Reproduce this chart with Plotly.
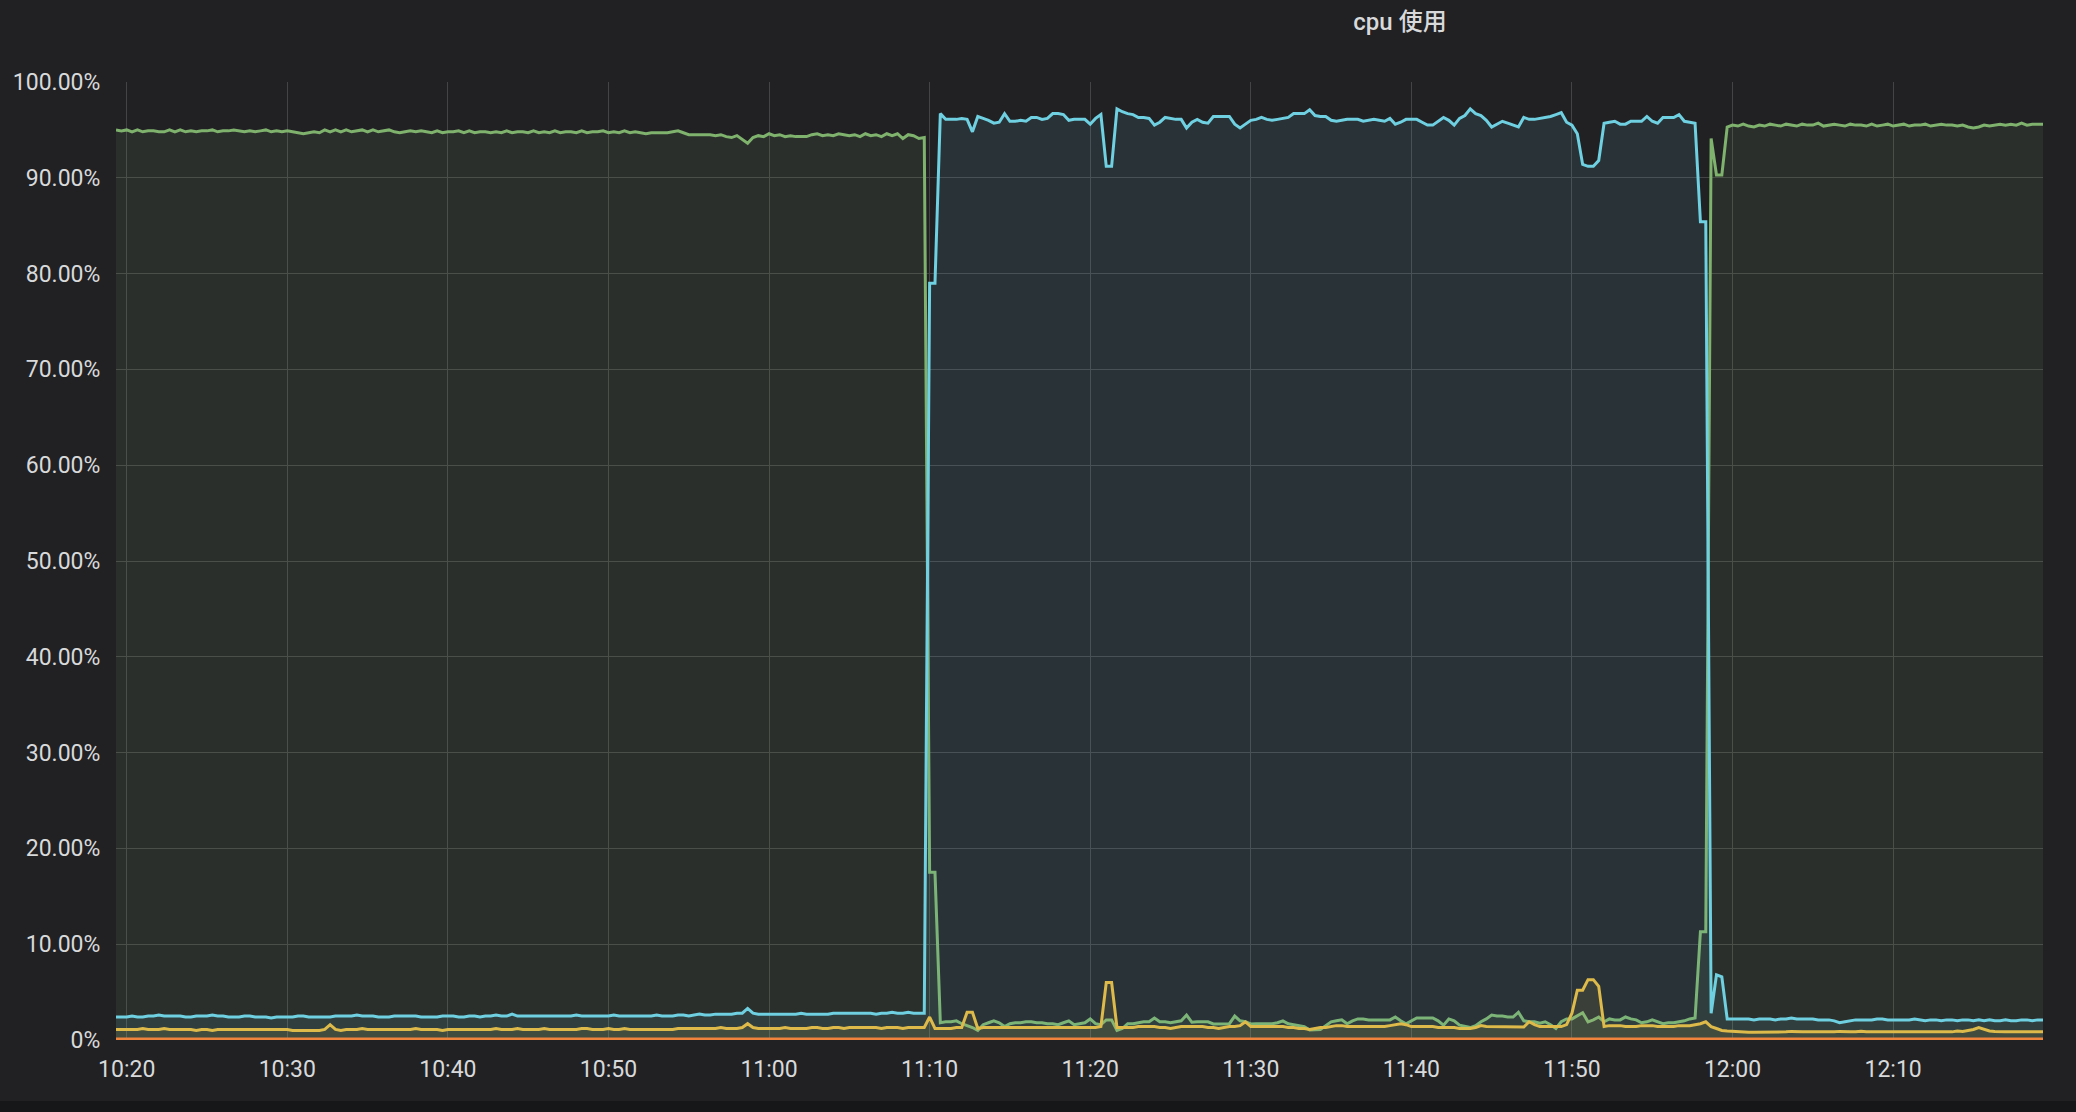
import pandas as pd
import plotly.graph_objects as go

# ---------------- data (20 s samples, 10:19:20 -> 12:19:20) ----------------
start_time = "2024-01-01 10:19:20"
sample_step = "20s"

green_vals = [
    95.0, 94.9, 95.0, 94.8, 95.0, 94.8, 94.9, 94.9, 94.8, 94.8,
    95.0, 94.8, 95.0, 94.8, 94.9, 94.8, 94.9, 94.9, 95.0, 94.8,
    94.9, 94.9, 95.0, 94.9, 94.8, 94.9, 94.8, 94.9, 95.0, 94.8,
    94.9, 94.8, 94.9, 94.8, 94.7, 94.6, 94.7, 94.8, 94.7, 95.0,
    94.8, 95.0, 94.8, 95.0, 94.8, 94.9, 95.0, 94.8, 95.0, 94.8,
    94.9, 95.0, 94.8, 94.7, 94.8, 94.9, 94.8, 94.9, 94.8, 94.7,
    94.9, 94.7, 94.8, 94.8, 94.9, 94.7, 94.9, 94.7, 94.8, 94.8,
    94.7, 94.8, 94.7, 94.9, 94.7, 94.8, 94.8, 94.7, 94.9, 94.7,
    94.8, 94.7, 94.9, 94.7, 94.8, 94.8, 94.7, 94.9, 94.7, 94.8,
    94.8, 94.9, 94.7, 94.8, 94.7, 94.9, 94.7, 94.8, 94.7, 94.6,
    94.7, 94.7, 94.7, 94.7, 94.8, 94.9, 94.7, 94.5, 94.5, 94.5,
    94.5, 94.5, 94.4, 94.5, 94.3, 94.2, 94.4, 94.0, 93.6, 94.2,
    94.4, 94.3, 94.6, 94.4, 94.5, 94.3, 94.4, 94.3, 94.3, 94.3,
    94.5, 94.6, 94.4, 94.5, 94.4, 94.6, 94.5, 94.4, 94.5, 94.3,
    94.6, 94.4, 94.5, 94.3, 94.6, 94.4, 94.6, 94.1, 94.5, 94.4,
    94.1, 94.2, 17.5, 17.5, 1.8, 1.9, 1.9, 2.0, 1.7, 1.5,
    1.3, 1.0, 1.6, 1.8, 2.0, 1.8, 1.4, 1.7, 1.8, 1.8,
    1.9, 1.9, 1.8, 1.8, 1.7, 1.7, 1.6, 1.8, 2.0, 1.6,
    1.7, 1.8, 2.2, 1.7, 1.6, 2.1, 2.1, 1.0, 1.2, 1.7,
    1.7, 1.8, 1.9, 1.9, 2.3, 1.9, 1.9, 1.8, 1.9, 2.0,
    2.6, 1.85, 1.9, 1.9, 1.9, 1.67, 1.7, 1.7, 1.7, 2.5,
    2.0, 1.9, 1.67, 1.7, 1.7, 1.7, 1.7, 1.8, 2.0, 1.7,
    1.6, 1.55, 1.4, 1.04, 1.1, 1.1, 1.5, 1.9, 2.0, 2.1,
    1.7, 2.0, 2.2, 2.2, 2.1, 2.1, 2.1, 2.1, 2.1, 2.4,
    2.0, 1.7, 2.0, 2.3, 2.3, 2.3, 2.3, 2.0, 1.55, 2.2,
    2.0, 1.55, 1.4, 1.3, 1.5, 1.9, 2.2, 2.6, 2.5, 2.5,
    2.4, 2.4, 2.9, 2.0, 1.9, 1.9, 1.75, 1.9, 1.6, 1.2,
    1.9, 2.2, 2.2, 2.5, 2.85, 1.9, 2.1, 2.4, 1.9, 2.2,
    2.1, 2.1, 2.4, 2.2, 2.1, 1.8, 1.9, 2.1, 1.9, 1.7,
    1.8, 1.8, 1.9, 2.0, 2.2, 2.3, 11.3, 11.3, 94.1, 90.3,
    90.3, 95.3, 95.5, 95.4, 95.6, 95.4, 95.3, 95.5, 95.4, 95.6,
    95.5, 95.4, 95.6, 95.5, 95.4, 95.6, 95.5, 95.5, 95.7, 95.4,
    95.5, 95.6, 95.5, 95.4, 95.6, 95.5, 95.5, 95.4, 95.6, 95.4,
    95.5, 95.6, 95.4, 95.5, 95.6, 95.4, 95.5, 95.5, 95.6, 95.4,
    95.5, 95.6, 95.5, 95.5, 95.4, 95.5, 95.3, 95.2, 95.3, 95.5,
    95.4, 95.5, 95.6, 95.5, 95.6, 95.5, 95.7, 95.5, 95.6, 95.6,
    95.6,
]

blue_vals = [
    2.4, 2.4, 2.4, 2.5, 2.4, 2.4, 2.5, 2.5, 2.6, 2.5,
    2.5, 2.5, 2.5, 2.4, 2.4, 2.5, 2.5, 2.5, 2.6, 2.5,
    2.5, 2.4, 2.4, 2.4, 2.5, 2.5, 2.4, 2.4, 2.4, 2.3,
    2.4, 2.4, 2.4, 2.4, 2.5, 2.5, 2.4, 2.4, 2.4, 2.4,
    2.4, 2.5, 2.5, 2.5, 2.5, 2.6, 2.5, 2.5, 2.5, 2.4,
    2.4, 2.4, 2.5, 2.5, 2.5, 2.5, 2.5, 2.4, 2.4, 2.4,
    2.4, 2.5, 2.5, 2.5, 2.4, 2.4, 2.5, 2.5, 2.4, 2.5,
    2.5, 2.6, 2.5, 2.5, 2.7, 2.5, 2.5, 2.5, 2.5, 2.5,
    2.5, 2.5, 2.5, 2.5, 2.5, 2.5, 2.6, 2.5, 2.5, 2.5,
    2.5, 2.5, 2.5, 2.6, 2.5, 2.5, 2.5, 2.5, 2.5, 2.5,
    2.5, 2.6, 2.5, 2.5, 2.5, 2.6, 2.6, 2.5, 2.6, 2.7,
    2.6, 2.6, 2.7, 2.7, 2.7, 2.7, 2.8, 2.8, 3.3, 2.8,
    2.7, 2.7, 2.7, 2.7, 2.7, 2.7, 2.7, 2.7, 2.8, 2.7,
    2.7, 2.7, 2.7, 2.7, 2.8, 2.8, 2.8, 2.8, 2.8, 2.8,
    2.8, 2.8, 2.7, 2.8, 2.8, 2.9, 2.8, 2.8, 2.9, 2.8,
    2.8, 2.8, 79.0, 79.0, 96.7, 96.1, 96.1, 96.1, 96.2, 96.1,
    94.8, 96.4, 96.2, 96.0, 95.7, 95.8, 96.7, 95.9, 95.9, 96.0,
    95.9, 96.3, 96.3, 96.1, 96.2, 96.7, 96.7, 96.6, 96.0, 96.1,
    96.1, 96.1, 95.6, 96.2, 96.6, 91.2, 91.2, 97.2, 96.9, 96.7,
    96.6, 96.3, 96.3, 96.2, 95.5, 95.8, 96.3, 96.2, 96.1, 96.1,
    95.2, 95.8, 96.1, 95.8, 95.7, 96.4, 96.4, 96.4, 96.4, 95.6,
    95.2, 95.6, 96.0, 96.1, 96.3, 96.1, 96.0, 96.1, 96.2, 96.3,
    96.7, 96.7, 96.7, 97.1, 96.5, 96.4, 96.4, 96.0, 95.9, 96.0,
    96.1, 96.1, 96.1, 95.9, 96.0, 96.1, 96.0, 95.9, 96.2, 95.6,
    95.8, 96.1, 96.1, 96.1, 95.8, 95.5, 95.5, 95.9, 96.3, 96.0,
    95.5, 96.2, 96.5, 97.2, 96.7, 96.5, 96.0, 95.3, 95.6, 95.9,
    95.7, 95.5, 95.3, 96.3, 96.1, 96.1, 96.2, 96.3, 96.4, 96.6,
    96.8, 95.8, 95.5, 94.6, 91.4, 91.2, 91.2, 91.8, 95.7, 95.8,
    95.9, 95.6, 95.6, 95.9, 95.9, 95.9, 96.4, 95.9, 95.7, 96.3,
    96.3, 96.3, 96.6, 95.9, 95.8, 95.7, 85.4, 85.4, 2.8, 6.8,
    6.6, 2.2, 2.2, 2.2, 2.2, 2.2, 2.1, 2.2, 2.2, 2.2,
    2.1, 2.2, 2.2, 2.3, 2.2, 2.2, 2.2, 2.2, 2.1, 2.1,
    2.1, 2.0, 1.8, 1.9, 2.0, 2.1, 2.1, 2.1, 2.1, 2.2,
    2.2, 2.1, 2.1, 2.1, 2.1, 2.1, 2.2, 2.1, 2.0, 2.1,
    2.1, 2.0, 2.1, 2.1, 2.0, 2.1, 2.1, 2.0, 2.1, 2.0,
    2.1, 2.0, 2.0, 2.1, 2.0, 2.0, 2.1, 2.1, 2.0, 2.1,
    2.1,
]

yellow_vals = [
    1.1, 1.1, 1.1, 1.1, 1.1, 1.2, 1.1, 1.1, 1.1, 1.2,
    1.1, 1.1, 1.1, 1.1, 1.1, 1.0, 1.1, 1.1, 1.0, 1.1,
    1.1, 1.1, 1.1, 1.1, 1.1, 1.1, 1.1, 1.1, 1.1, 1.1,
    1.1, 1.1, 1.1, 1.0, 1.0, 1.0, 1.0, 1.0, 1.0, 1.1,
    1.6, 1.1, 1.0, 1.1, 1.1, 1.1, 1.2, 1.1, 1.1, 1.1,
    1.1, 1.1, 1.1, 1.1, 1.1, 1.1, 1.2, 1.1, 1.1, 1.1,
    1.1, 1.0, 1.1, 1.1, 1.1, 1.1, 1.1, 1.1, 1.1, 1.1,
    1.1, 1.2, 1.1, 1.1, 1.1, 1.2, 1.1, 1.1, 1.1, 1.1,
    1.2, 1.1, 1.1, 1.1, 1.1, 1.1, 1.1, 1.2, 1.2, 1.1,
    1.1, 1.1, 1.2, 1.1, 1.1, 1.2, 1.1, 1.1, 1.1, 1.1,
    1.1, 1.1, 1.1, 1.1, 1.1, 1.2, 1.2, 1.2, 1.2, 1.2,
    1.2, 1.2, 1.2, 1.3, 1.2, 1.2, 1.2, 1.3, 1.7, 1.3,
    1.2, 1.2, 1.2, 1.2, 1.2, 1.3, 1.2, 1.2, 1.2, 1.2,
    1.3, 1.3, 1.2, 1.2, 1.3, 1.3, 1.2, 1.3, 1.3, 1.3,
    1.3, 1.3, 1.3, 1.2, 1.3, 1.3, 1.3, 1.2, 1.3, 1.3,
    1.3, 1.3, 2.4, 1.2, 1.2, 1.2, 1.2, 1.3, 1.3, 2.9,
    2.9, 1.2, 1.3, 1.3, 1.3, 1.3, 1.3, 1.3, 1.3, 1.3,
    1.3, 1.3, 1.3, 1.3, 1.3, 1.3, 1.3, 1.3, 1.3, 1.3,
    1.3, 1.3, 1.3, 1.3, 1.4, 6.0, 6.0, 1.3, 1.3, 1.3,
    1.3, 1.4, 1.4, 1.4, 1.4, 1.3, 1.3, 1.2, 1.3, 1.4,
    1.4, 1.4, 1.4, 1.4, 1.3, 1.3, 1.2, 1.3, 1.4, 1.4,
    1.5, 1.9, 1.4, 1.4, 1.4, 1.4, 1.4, 1.4, 1.4, 1.3,
    1.3, 1.2, 1.2, 1.1, 1.2, 1.3, 1.3, 1.4, 1.5, 1.5,
    1.4, 1.4, 1.4, 1.4, 1.4, 1.4, 1.4, 1.4, 1.5, 1.6,
    1.7, 1.6, 1.4, 1.4, 1.4, 1.4, 1.4, 1.3, 1.3, 1.3,
    1.3, 1.2, 1.2, 1.2, 1.3, 1.5, 1.4, 1.4, 1.4, 1.4,
    1.4, 1.4, 1.4, 1.35, 1.9, 1.6, 1.4, 1.4, 1.4, 1.4,
    1.4, 1.6, 2.8, 5.2, 5.2, 6.3, 6.3, 5.6, 1.4, 1.5,
    1.5, 1.5, 1.4, 1.4, 1.4, 1.5, 1.5, 1.5, 1.4, 1.4,
    1.4, 1.4, 1.5, 1.5, 1.5, 1.6, 1.7, 1.9, 1.4, 1.2,
    1.0, 0.95, 0.9, 0.85, 0.8, 0.8, 0.8, 0.8, 0.85, 0.85,
    0.8, 0.85, 0.85, 0.9, 0.85, 0.85, 0.85, 0.85, 0.8, 0.8,
    0.85, 0.85, 0.9, 0.85, 0.85, 0.85, 0.9, 0.85, 0.85, 0.85,
    0.9, 0.85, 0.85, 0.9, 0.85, 0.85, 0.85, 0.9, 0.85, 0.85,
    0.9, 0.85, 0.9, 0.85, 0.95, 0.9, 1.0, 1.1, 1.3, 1.1,
    0.95, 0.9, 0.85, 0.85, 0.85, 0.85, 0.85, 0.85, 0.85, 0.85,
    0.85,
]

orange_vals = [
    0.1, 0.1, 0.1, 0.1, 0.1, 0.1, 0.1, 0.1, 0.1, 0.1,
    0.1, 0.1, 0.1, 0.1, 0.1, 0.1, 0.1, 0.1, 0.1, 0.1,
    0.1, 0.1, 0.1, 0.1, 0.1, 0.1, 0.1, 0.1, 0.1, 0.1,
    0.1, 0.1, 0.1, 0.1, 0.1, 0.1, 0.1, 0.1, 0.1, 0.1,
    0.1, 0.1, 0.1, 0.1, 0.1, 0.1, 0.1, 0.1, 0.1, 0.1,
    0.1, 0.1, 0.1, 0.1, 0.1, 0.1, 0.1, 0.1, 0.1, 0.1,
    0.1, 0.1, 0.1, 0.1, 0.1, 0.1, 0.1, 0.1, 0.1, 0.1,
    0.1, 0.1, 0.1, 0.1, 0.1, 0.1, 0.1, 0.1, 0.1, 0.1,
    0.1, 0.1, 0.1, 0.1, 0.1, 0.1, 0.1, 0.1, 0.1, 0.1,
    0.1, 0.1, 0.1, 0.1, 0.1, 0.1, 0.1, 0.1, 0.1, 0.1,
    0.1, 0.1, 0.1, 0.1, 0.1, 0.1, 0.1, 0.1, 0.1, 0.1,
    0.1, 0.1, 0.1, 0.1, 0.1, 0.1, 0.1, 0.1, 0.1, 0.1,
    0.1, 0.1, 0.1, 0.1, 0.1, 0.1, 0.1, 0.1, 0.1, 0.1,
    0.1, 0.1, 0.1, 0.1, 0.1, 0.1, 0.1, 0.1, 0.1, 0.1,
    0.1, 0.1, 0.1, 0.1, 0.1, 0.1, 0.1, 0.1, 0.1, 0.1,
    0.1, 0.1, 0.1, 0.1, 0.1, 0.1, 0.1, 0.1, 0.1, 0.1,
    0.1, 0.1, 0.1, 0.1, 0.1, 0.1, 0.1, 0.1, 0.1, 0.1,
    0.1, 0.1, 0.1, 0.1, 0.1, 0.1, 0.1, 0.1, 0.1, 0.1,
    0.1, 0.1, 0.1, 0.1, 0.1, 0.1, 0.1, 0.1, 0.1, 0.1,
    0.1, 0.1, 0.1, 0.1, 0.1, 0.1, 0.1, 0.1, 0.1, 0.1,
    0.1, 0.1, 0.1, 0.1, 0.1, 0.1, 0.1, 0.1, 0.1, 0.1,
    0.1, 0.1, 0.1, 0.1, 0.1, 0.1, 0.1, 0.1, 0.1, 0.1,
    0.1, 0.1, 0.1, 0.1, 0.1, 0.1, 0.1, 0.1, 0.1, 0.1,
    0.1, 0.1, 0.1, 0.1, 0.1, 0.1, 0.1, 0.1, 0.1, 0.1,
    0.1, 0.1, 0.1, 0.1, 0.1, 0.1, 0.1, 0.1, 0.1, 0.1,
    0.1, 0.1, 0.1, 0.1, 0.1, 0.1, 0.1, 0.1, 0.1, 0.1,
    0.1, 0.1, 0.1, 0.1, 0.1, 0.1, 0.1, 0.1, 0.1, 0.1,
    0.1, 0.1, 0.1, 0.1, 0.1, 0.1, 0.1, 0.1, 0.1, 0.1,
    0.1, 0.1, 0.1, 0.1, 0.1, 0.1, 0.1, 0.1, 0.1, 0.1,
    0.1, 0.1, 0.1, 0.1, 0.1, 0.1, 0.1, 0.1, 0.1, 0.1,
    0.1, 0.1, 0.1, 0.1, 0.1, 0.1, 0.1, 0.1, 0.1, 0.1,
    0.1, 0.1, 0.1, 0.1, 0.1, 0.1, 0.1, 0.1, 0.1, 0.1,
    0.1, 0.1, 0.1, 0.1, 0.1, 0.1, 0.1, 0.1, 0.1, 0.1,
    0.1, 0.1, 0.1, 0.1, 0.1, 0.1, 0.1, 0.1, 0.1, 0.1,
    0.1, 0.1, 0.1, 0.1, 0.1, 0.1, 0.1, 0.1, 0.1, 0.1,
    0.1, 0.1, 0.1, 0.1, 0.1, 0.1, 0.1, 0.1, 0.1, 0.1,
    0.1,
]

ytick_vals = [0, 10, 20, 30, 40, 50, 60, 70, 80, 90, 100]
ytick_text = ["0%", "10.00%", "20.00%", "30.00%", "40.00%", "50.00%",
              "60.00%", "70.00%", "80.00%", "90.00%", "100.00%"]
chart_title = "cpu 使用"

# ---------------- figure ----------------
n = min(len(green_vals), len(blue_vals), len(yellow_vals), len(orange_vals))
times = pd.date_range(start_time, periods=n, freq=sample_step)

BG = "#212124"
GRID = "#444447"
TXT = "#d8d9da"

series = [
    ("green", green_vals, "#7EB26D", "rgba(126,178,109,0.10)"),
    ("yellow", yellow_vals, "#EAB839", "rgba(234,184,57,0.10)"),
    ("blue", blue_vals, "#6ED0E0", "rgba(110,208,224,0.10)"),
    ("orange", orange_vals, "#EF843C", "rgba(239,132,60,0.10)"),
]

fig = go.Figure()
for name, vals, col, fcol in series:
    fig.add_trace(go.Scatter(
        x=times, y=vals[:n], mode="lines", name=name,
        line=dict(color=col, width=3),
        fill="tozeroy", fillcolor=fcol,
        hoverinfo="skip",
    ))

fig.update_layout(
    width=2076, height=1112,
    paper_bgcolor=BG, plot_bgcolor=BG,
    margin=dict(l=116, r=33, t=82, b=72),
    showlegend=False,
    font=dict(family="Roboto, 'Noto Sans CJK SC', sans-serif", color=TXT, size=23),
    title=dict(
        text=chart_title, x=1400 / 2076, xanchor="center",
        y=1 - 22 / 1112, yanchor="middle",
        font=dict(size=24, color=TXT, family="Roboto, 'Noto Sans CJK SC', sans-serif", weight=500),
    ),
    xaxis=dict(
        type="date", range=[times[0], times[-1]],
        tickformat="%H:%M", dtick=600000,
        showgrid=True, gridcolor=GRID, gridwidth=1,
        zeroline=False, showline=False,
        ticks="outside", ticklen=8, tickcolor="rgba(0,0,0,0)",
        tickfont=dict(size=23, color=TXT),
        fixedrange=True,
    ),
    yaxis=dict(
        range=[0, 100], tickvals=ytick_vals, ticktext=ytick_text,
        showgrid=True, gridcolor=GRID, gridwidth=1,
        zeroline=False, showline=False,
        ticks="outside", ticklen=10, tickcolor="rgba(0,0,0,0)",
        tickfont=dict(size=23, color=TXT),
        fixedrange=True,
    ),
    shapes=[dict(
        type="rect", xref="paper", yref="paper",
        x0=-0.1, x1=1.1, y0=-61 / 958, y1=-80 / 958,
        fillcolor="#161719", line=dict(width=0), layer="above",
    )],
)

fig.write_html("out.html", config={"displayModeBar": False})
